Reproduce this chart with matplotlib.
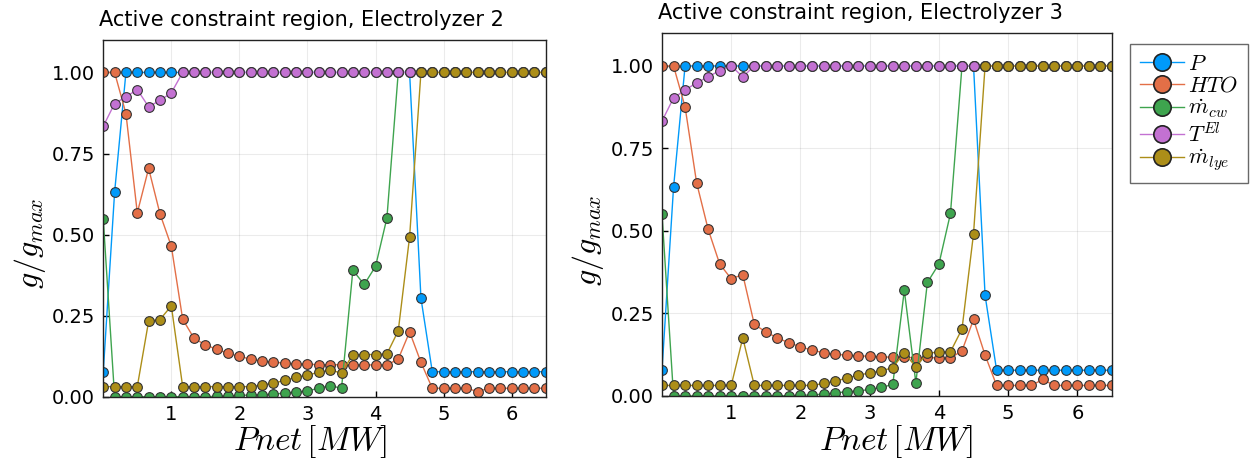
import matplotlib
matplotlib.use('Agg')
import matplotlib.pyplot as plt
import numpy as np

plt.rcParams['mathtext.fontset'] = 'cm'
plt.rcParams['font.family'] = ['DejaVu Sans']

# grid of net power values (MW), 40 operating points
pnet = np.linspace(0, 6.5, 40)

series_labels = [r'$P$', r'$HTO$', r'$\dot{m}_{cw}$', r'$T^{El}$', r'$\dot{m}_{lye}$']
series_colors = ['#009AFA', '#E36F47', '#3EA44E', '#C371D2', '#AC8E18']

# Electrolyzer 2
p_e2 = [0.076, 0.63, 1.0, 1.0, 1.0, 1.0, 1.0, 1.0, 1.0, 1.0,
        1.0, 1.0, 1.0, 1.0, 1.0, 1.0, 1.0, 1.0, 1.0, 1.0,
        1.0, 1.0, 1.0, 1.0, 1.0, 1.0, 1.0, 1.0, 0.304, 0.077,
        0.077, 0.077, 0.077, 0.077, 0.077, 0.077, 0.077, 0.077, 0.077, 0.077]
hto_e2 = [1.0, 1.0, 0.873, 0.567, 0.704, 0.564, 0.464, 0.239, 0.18, 0.16,
          0.146, 0.134, 0.124, 0.116, 0.11, 0.106, 0.104, 0.101, 0.1, 0.099,
          0.098, 0.099, 0.098, 0.098, 0.098, 0.098, 0.116, 0.2, 0.106, 0.026,
          0.026, 0.026, 0.026, 0.016, 0.026, 0.026, 0.026, 0.026, 0.026, 0.026]
mcw_e2 = [0.547, 0.0, 0.0, 0.0, 0.0, 0.0, 0.0, 0.0, 0.0, 0.0,
          0.001, 0.002, 0.004, 0.005, 0.006, 0.008, 0.011, 0.014, 0.018, 0.026,
          0.034, 0.026, 0.39, 0.346, 0.402, 0.551, 1.0, 1.0, 1.0, 1.0,
          1.0, 1.0, 1.0, 1.0, 1.0, 1.0, 1.0, 1.0, 1.0, 1.0]
tel_e2 = [0.834, 0.904, 0.925, 0.947, 0.894, 0.914, 0.937, 1.0, 1.0, 1.0,
          1.0, 1.0, 1.0, 1.0, 1.0, 1.0, 1.0, 1.0, 1.0, 1.0,
          1.0, 1.0, 1.0, 1.0, 1.0, 1.0, 1.0, 1.0, 1.0, 1.0,
          1.0, 1.0, 1.0, 1.0, 1.0, 1.0, 1.0, 1.0, 1.0, 1.0]
mlye_e2 = [0.031, 0.031, 0.031, 0.031, 0.233, 0.238, 0.28, 0.031, 0.031, 0.031,
           0.031, 0.031, 0.031, 0.031, 0.036, 0.042, 0.05, 0.06, 0.067, 0.075,
           0.082, 0.073, 0.13, 0.13, 0.13, 0.132, 0.203, 0.493, 1.0, 1.0,
           1.0, 1.0, 1.0, 1.0, 1.0, 1.0, 1.0, 1.0, 1.0, 1.0]

# Electrolyzer 3
p_e3 = [0.078, 0.632, 1.0, 1.0, 1.0, 1.0, 1.0, 1.0, 1.0, 1.0,
        1.0, 1.0, 1.0, 1.0, 1.0, 1.0, 1.0, 1.0, 1.0, 1.0,
        1.0, 1.0, 1.0, 1.0, 1.0, 1.0, 1.0, 1.0, 0.305, 0.078,
        0.078, 0.078, 0.078, 0.078, 0.078, 0.078, 0.078, 0.078, 0.078, 0.078]
hto_e3 = [1.0, 1.0, 0.876, 0.646, 0.505, 0.40, 0.355, 0.368, 0.217, 0.194,
          0.176, 0.161, 0.149, 0.139, 0.131, 0.126, 0.124, 0.122, 0.12, 0.119,
          0.117, 0.117, 0.116, 0.117, 0.115, 0.115, 0.137, 0.232, 0.124, 0.032,
          0.032, 0.032, 0.032, 0.05, 0.032, 0.032, 0.032, 0.032, 0.032, 0.032]
mcw_e3 = [0.551, 0.0, 0.0, 0.0, 0.0, 0.0, 0.0, 0.0, 0.0, 0.0,
          0.0, 0.001, 0.002, 0.003, 0.006, 0.009, 0.013, 0.015, 0.02, 0.026,
          0.035, 0.32, 0.04, 0.344, 0.40, 0.553, 1.0, 1.0, 1.0, 1.0,
          1.0, 1.0, 1.0, 1.0, 1.0, 1.0, 1.0, 1.0, 1.0, 1.0]
tel_e3 = [0.833, 0.903, 0.927, 0.949, 0.967, 0.986, 1.0, 0.967, 1.0, 1.0,
          1.0, 1.0, 1.0, 1.0, 1.0, 1.0, 1.0, 1.0, 1.0, 1.0,
          1.0, 1.0, 1.0, 1.0, 1.0, 1.0, 1.0, 1.0, 1.0, 1.0,
          1.0, 1.0, 1.0, 1.0, 1.0, 1.0, 1.0, 1.0, 1.0, 1.0]
mlye_e3 = [0.032, 0.032, 0.032, 0.032, 0.032, 0.032, 0.032, 0.176, 0.032, 0.032,
           0.032, 0.032, 0.032, 0.032, 0.038, 0.045, 0.054, 0.063, 0.07, 0.076,
           0.086, 0.131, 0.088, 0.131, 0.132, 0.134, 0.203, 0.492, 1.0, 1.0,
           1.0, 1.0, 1.0, 1.0, 1.0, 1.0, 1.0, 1.0, 1.0, 1.0]

panels = [
    ('Active constraint region, Electrolyzer 2', [p_e2, hto_e2, mcw_e2, tel_e2, mlye_e2]),
    ('Active constraint region, Electrolyzer 3', [p_e3, hto_e3, mcw_e3, tel_e3, mlye_e3]),
]

fig = plt.figure(figsize=(12.5, 4.61), dpi=100)

# axes rectangles in figure fraction, taken from the reference layout
rects = [[0.0826, 0.1395, 0.354, 0.7737],
         [0.5296, 0.1410, 0.360, 0.7875]]
# title anchor (figure fraction, baseline)
title_pos = [(0.2408, 0.9436), (0.688, 0.959)]
xlabel_x = [0.467, 0.52]

for k, (title, data) in enumerate(panels):
    ax = fig.add_axes(rects[k])
    for vals, lab, col in zip(data, series_labels, series_colors):
        ax.plot(pnet, vals, color=col, lw=1, marker='o', markersize=7,
                markerfacecolor=col, markeredgecolor='#333333',
                markeredgewidth=0.8, label=lab)
    ax.set_xlim(0, 6.5)
    ax.set_ylim(0, 1.1)
    ax.set_xticks([1, 2, 3, 4, 5, 6])
    ax.set_yticks([0, 0.25, 0.5, 0.75, 1.0])
    ax.set_yticklabels(['0.00', '0.25', '0.50', '0.75', '1.00'])
    ax.tick_params(direction='in', length=4, width=1, labelsize=14,
                   top=False, right=False, pad=6)
    ax.grid(True, color='black', alpha=0.08, lw=0.8)
    for sp in ax.spines.values():
        sp.set_color('#222222')
        sp.set_linewidth(1)
    ax.set_xlabel(r'$Pnet\,[MW]$', fontsize=24)
    ax.set_ylabel(r'$g/g_{max}$', fontsize=23)
    ax.xaxis.set_label_coords(xlabel_x[k], -0.075)
    ax.yaxis.set_label_coords(-0.125, 0.43)
    fig.text(title_pos[k][0], title_pos[k][1], title, fontsize=15,
             ha='center', va='baseline')

leg_handles = []
for col in series_colors:
    leg_handles.append(plt.Line2D([], [], color=col, lw=1, marker='o', markersize=12.5,
                                  markerfacecolor=col, markeredgecolor='#222222',
                                  markeredgewidth=1.2))
leg = fig.legend(leg_handles, series_labels, loc='upper left',
                 bbox_to_anchor=(1130 / 1250, 1 - 44 / 461), fontsize=16,
                 frameon=True, fancybox=False, borderaxespad=0,
                 handlelength=2.0, handletextpad=0.15, labelspacing=0.08,
                 borderpad=0.45)
leg.get_frame().set_edgecolor('#444444')
leg.get_frame().set_linewidth(1)

fig.savefig('out.png', dpi=100)
